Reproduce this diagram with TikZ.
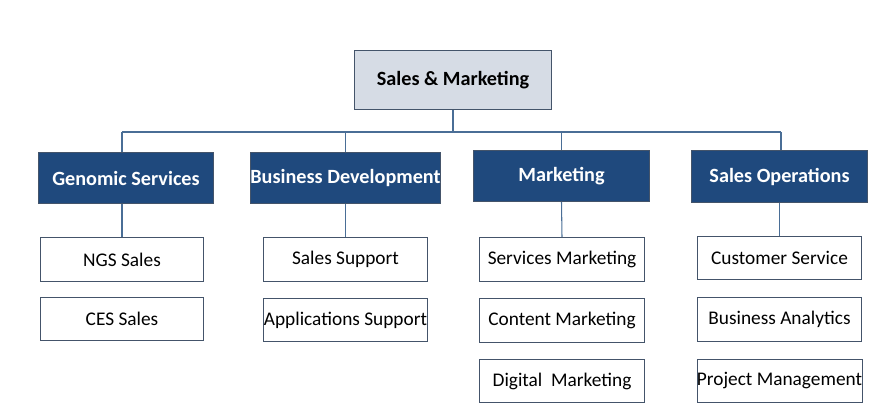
\documentclass[tikz,border=0pt]{standalone}
\usepackage{fontspec}
\setmainfont{Carlito}
\definecolor{topfill}{HTML}{D6DCE5}
\definecolor{dblue}{HTML}{1F497D}
\definecolor{edge}{HTML}{44546A}
\definecolor{conn}{HTML}{4A6E96}
\begin{document}
\begin{tikzpicture}[x=0.02cm,y=-0.02cm,
  topbox/.style={draw=edge,fill=topfill,font=\bfseries\fontsize{11.5}{13}\selectfont,inner sep=0pt},
  midbox/.style={draw=edge,fill=dblue,text=white,font=\bfseries\fontsize{11.5}{13}\selectfont,inner sep=0pt},
  leafbox/.style={draw=edge,fill=white,font=\fontsize{11}{13}\selectfont,inner sep=0pt},
  link/.style={draw=conn,line width=0.6pt}]
\useasboundingbox (0,0) rectangle (879,413);
\newcommand\bx[6]{\node[#1,minimum width=#4*0.02cm-0.4pt,minimum height=#5*0.02cm-0.4pt] (#2) at (#3) {#6};}
\bx{topbox}{top}{453,80}{198}{60}{Sales \& Marketing}
\bx{midbox}{gs}{126,178}{176}{52}{Genomic Services}
\bx{midbox}{bd}{345.5,178}{177}{52}{Business Development}
\bx{midbox}{mk}{561.5,176}{177}{52}{Marketing}
\bx{midbox}{so}{779.5,176.5}{177}{53}{Sales Operations}
\bx{leafbox}{ngs}{122,259.5}{164}{45}{NGS Sales}
\bx{leafbox}{ces}{122,319}{164}{44}{CES Sales}
\bx{leafbox}{ss}{345.5,259.5}{165}{45}{Sales Support}
\bx{leafbox}{as}{345.5,320}{165}{44}{Applications Support}
\bx{leafbox}{sm}{562,259.5}{166}{45}{Services Marketing}
\bx{leafbox}{cm}{562,320.5}{166}{45}{Content Marketing}
\bx{leafbox}{dm}{562,381}{166}{44}{Digital\ \ Marketing}
\bx{leafbox}{cs}{779.5,258}{165}{44}{Customer Service}
\bx{leafbox}{ba}{779.5,319.5}{165}{45}{Business Analytics}
\bx{leafbox}{pm}{779.5,381}{165}{44}{Project Management}
\coordinate (hl) at (122,132);
\coordinate (hr) at (781,132);
\draw[link] (top.south) -- (top.south |- hl);
\draw[link] (hl) -- (hr);
\draw[link] (hl) -- (hl |- gs.north);
\draw[link] (bd.north) -- (bd.north |- hl);
\draw[link] (mk.north) -- (mk.north |- hl);
\draw[link] (hr) -- (hr |- so.north);
\draw[link] (ngs.north |- gs.south) -- (ngs.north);
\draw[link] (bd.south) -- (ss.north);
\draw[link] (mk.south) -- (sm.north);
\draw[link] (so.south) -- (cs.north);
\end{tikzpicture}
\end{document}
